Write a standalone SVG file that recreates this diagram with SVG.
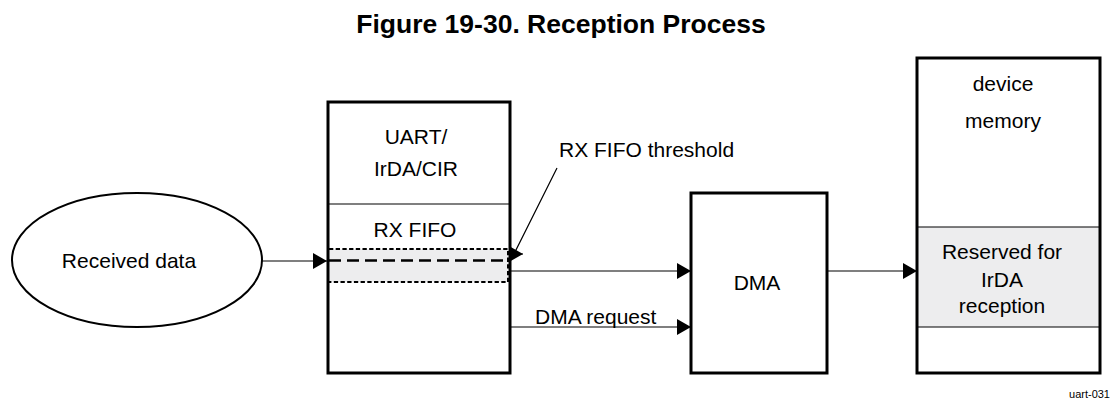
<svg xmlns="http://www.w3.org/2000/svg" width="1112" height="403" viewBox="0 0 1112 403">
<defs>
<style>
.t{font-family:"Liberation Sans",Arial,sans-serif;font-size:21px;fill:#000}
.c{text-anchor:middle}
.box{fill:none;stroke:#000;stroke-width:3}
.thin{fill:none;stroke:#000;stroke-width:1.2}
.shade{fill:#ededee;stroke:none}
</style>
<marker id="ah" markerUnits="userSpaceOnUse" markerWidth="15" markerHeight="16" refX="14" refY="8" orient="auto">
<path d="M0,0 L14,8 L0,16 z" fill="#000"/>
</marker>
</defs>
<rect width="1112" height="403" fill="#fff"/>
<text x="561" y="33" class="t c" style="font-weight:bold;font-size:26.5px">Figure 19-30. Reception Process</text>
<g id="received">
<ellipse cx="137" cy="260" rx="125" ry="67" fill="none" stroke="#000" stroke-width="2"/>
<text x="129" y="268" class="t c">Received data</text>
</g>
<g id="uart">
<rect x="328" y="249" width="180" height="33" class="shade"/>
<rect x="328" y="102" width="182" height="271" class="box"/>
<line x1="328" y1="204" x2="510" y2="204" class="thin"/>
<path d="M329,249 H508 V282 H329" fill="none" stroke="#000" stroke-width="2" stroke-dasharray="4.3 2.4"/>
<line x1="329" y1="260.5" x2="508" y2="260.5" stroke="#000" stroke-width="2.4" stroke-dasharray="12 6"/>
<text x="416" y="144" class="t c">UART/</text>
<text x="416" y="176" class="t c">IrDA/CIR</text>
<text x="415" y="237" class="t c">RX FIFO</text>
</g>
<g id="dma">
<rect x="691" y="193" width="136" height="180" class="box"/>
<text x="757" y="290" class="t c">DMA</text>
</g>
<g id="memory">
<rect x="917" y="227" width="183" height="100" class="shade"/>
<line x1="917" y1="227" x2="1100" y2="227" class="thin"/>
<line x1="917" y1="327" x2="1100" y2="327" class="thin"/>
<rect x="917" y="58" width="183" height="315" class="box"/>
<text x="1003" y="91" class="t c">device</text>
<text x="1003" y="128" class="t c">memory</text>
<text x="1002" y="259" class="t c">Reserved for</text>
<text x="1002" y="287" class="t c">IrDA</text>
<text x="1002" y="313" class="t c">reception</text>
</g>
<g id="connectors">
<path d="M262,261 H327" class="thin" marker-end="url(#ah)"/>
<path d="M510,271 H691" class="thin" marker-end="url(#ah)"/>
<path d="M510,327 H691" class="thin" marker-end="url(#ah)"/>
<path d="M827,271 H917" class="thin" marker-end="url(#ah)"/>
<path d="M557,168 L514,254 H523" class="thin" marker-end="url(#ah)"/>
</g>
<g id="labels">
<text x="559" y="157" class="t">RX FIFO threshold</text>
<text x="535" y="324" class="t">DMA request</text>
<text x="1110" y="398" class="t" style="font-size:11px;text-anchor:end">uart-031</text>
</g>
</svg>
